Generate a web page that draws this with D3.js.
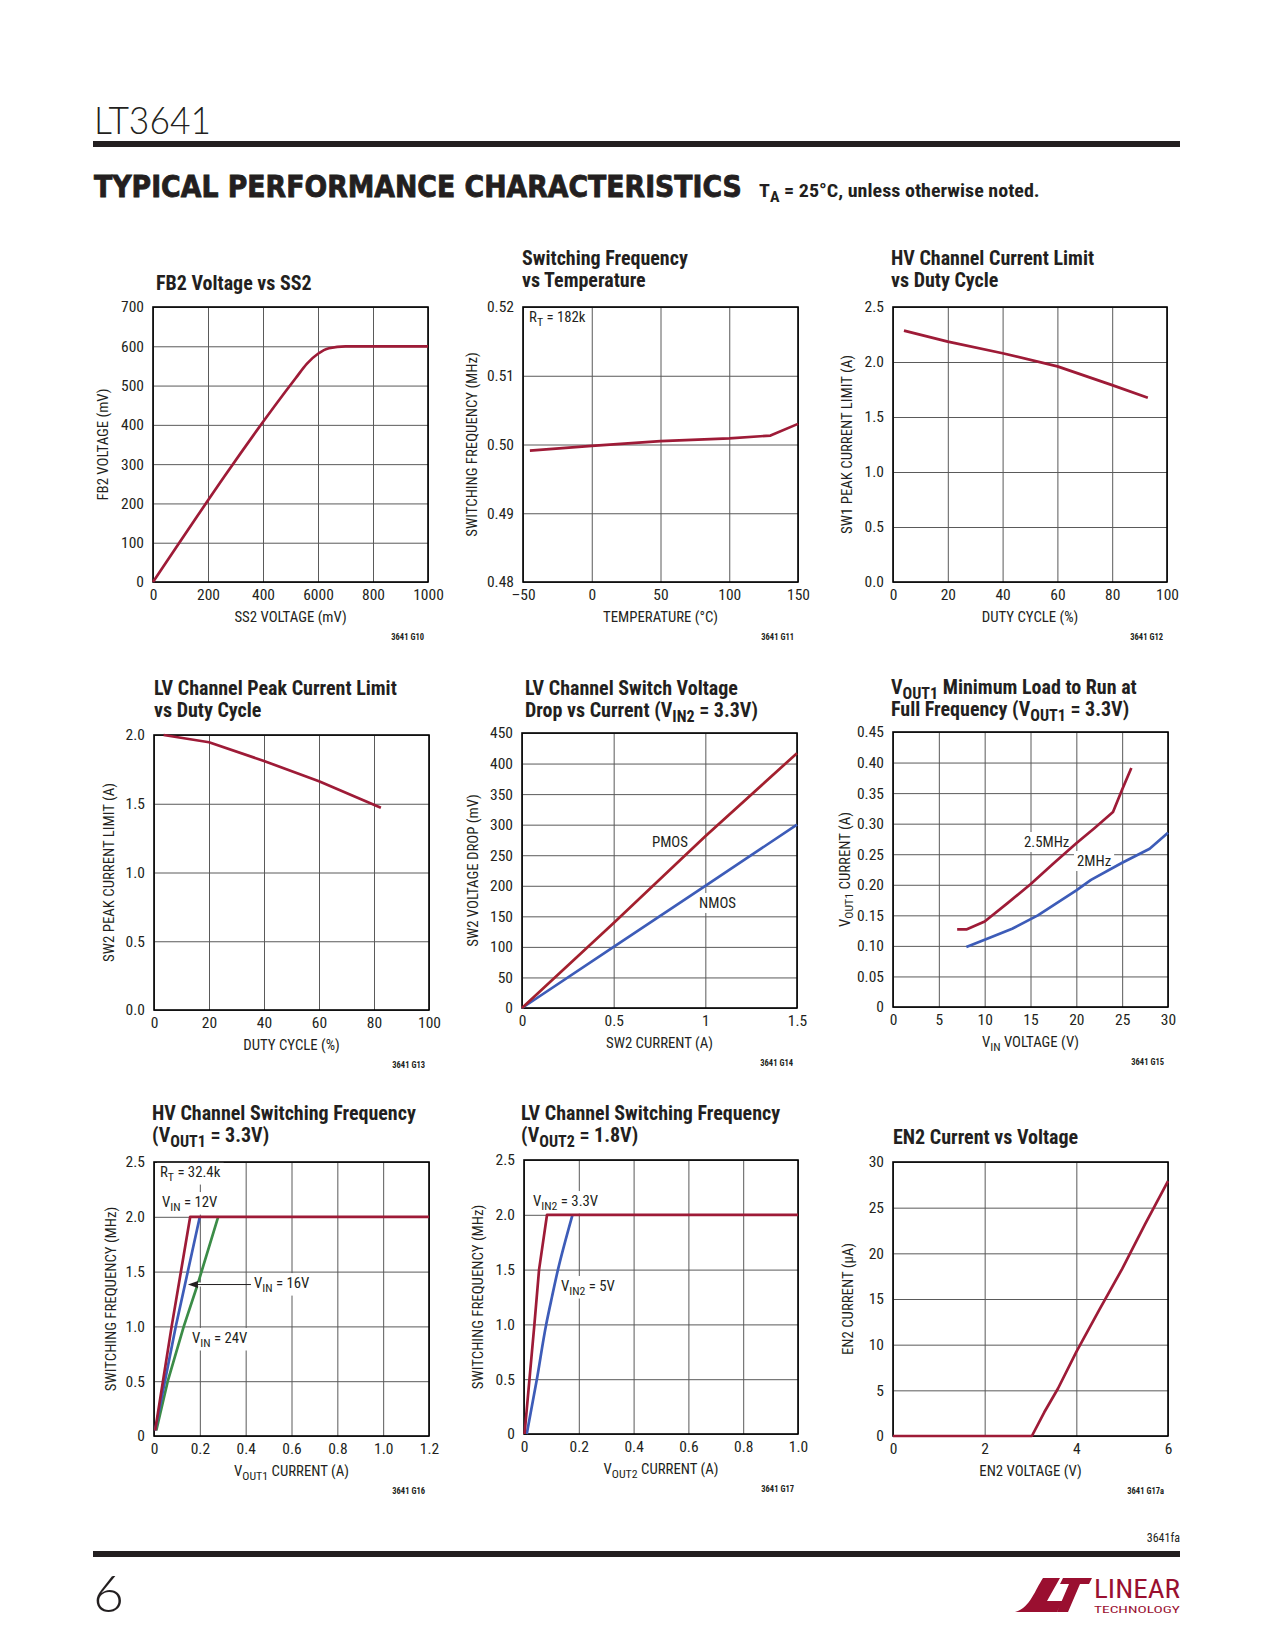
<!DOCTYPE html>
<html><head><meta charset="utf-8">
<script src="https://cdn.jsdelivr.net/npm/d3@7/dist/d3.min.js"></script>
<style>body{margin:0;background:#fff}svg{display:block}</style>
</head><body>
<svg id="page" width="1275" height="1650"></svg>
<script>
// ---------------- DATA ----------------
// G10 FB2 Voltage vs SS2
const g10Series = [[0,0],[520,520],[560,556],[600,581],[640,595],[700,600],[1000,600]];
const g10XTicks = [0,200,400,600,800,1000];
const g10XLabels = ["0","200","400","6000","800","1000"];
const g10YTicks = [0,100,200,300,400,500,600,700];
// G11 Switching Frequency vs Temperature
const g11Series = [[-45,0.4991],[0,0.4998],[50,0.5005],[100,0.5009],[130,0.5013],[150,0.5030]];
const g11XTicks = [-50,0,50,100,150];
const g11XLabels = ["\u201350","0","50","100","150"];
const g11YTicks = [0.48,0.49,0.50,0.51,0.52];
const g11YLabels = ["0.48","0.49","0.50","0.51","0.52"];
// G12 HV Channel Current Limit vs Duty Cycle
const g12Series = [[4,2.285],[20,2.185],[40,2.08],[60,1.96],[80,1.79],[93,1.675]];
const dutyTicks = [0,20,40,60,80,100];
const g12YTicks = [0,0.5,1.0,1.5,2.0,2.5];
const g12YLabels = ["0.0","0.5","1.0","1.5","2.0","2.5"];
// G13 LV Channel Peak Current Limit vs Duty Cycle
const g13Series = [[3.5,2.0],[20,1.947],[40,1.811],[60,1.663],[82.5,1.471]];
const g13YTicks = [0,0.5,1.0,1.5,2.0];
const g13YLabels = ["0.0","0.5","1.0","1.5","2.0"];
// G14 LV Channel Switch Voltage Drop vs Current
const g14Pmos = [[0,0],[0.5,139],[1,281],[1.5,417]];
const g14Nmos = [[0,0],[0.5,100],[1,200],[1.5,300]];
const g14XTicks = [0,0.5,1,1.5];
const g14XLabels = ["0","0.5","1","1.5"];
const g14YTicks = [0,50,100,150,200,250,300,350,400,450];
// G15 VOUT1 Minimum Load to Run at Full Frequency
const g15f25 = [[7,0.127],[8,0.127],[10,0.140],[12.5,0.170],[15,0.201],[17.5,0.235],[20,0.268],[22,0.293],[24,0.319],[25,0.356],[26,0.391]];
const g15f20 = [[8,0.098],[10,0.110],[13,0.128],[15.8,0.150],[20,0.191],[21.6,0.208],[25,0.236],[28,0.259],[30,0.285]];
const g15XTicks = [0,5,10,15,20,25,30];
const g15YTicks = [0,0.05,0.10,0.15,0.20,0.25,0.30,0.35,0.40,0.45];
const g15YLabels = ["0","0.05","0.10","0.15","0.20","0.25","0.30","0.35","0.40","0.45"];
// G16 HV Channel Switching Frequency
const g16Vin12 = [[0.005,0.05],[0.077,1.0],[0.158,2.0],[1.2,2.0]];
const g16Vin16 = [[0.005,0.05],[0.095,1.0],[0.2,2.0]];
const g16Vin24 = [[0.01,0.05],[0.06,0.5],[0.13,1.0],[0.19,1.38],[0.28,2.0]];
const g16XTicks = [0,0.2,0.4,0.6,0.8,1.0,1.2];
const g16XLabels = ["0","0.2","0.4","0.6","0.8","1.0","1.2"];
const freqYTicks = [0,0.5,1.0,1.5,2.0,2.5];
const freqYLabels = ["0","0.5","1.0","1.5","2.0","2.5"];
// G17 LV Channel Switching Frequency
const g17Vin33 = [[0.002,0],[0.02,0.5],[0.038,1.0],[0.055,1.5],[0.084,2.0],[1.0,2.0]];
const g17Vin5 = [[0.01,0],[0.047,0.5],[0.081,1.0],[0.102,1.25],[0.124,1.5],[0.177,2.0]];
const g17XTicks = [0,0.2,0.4,0.6,0.8,1.0];
const g17XLabels = ["0","0.2","0.4","0.6","0.8","1.0"];
// G17a EN2 Current vs Voltage
const g17aSeries = [[0,0],[3.03,0],[3.3,2.6],[3.6,5.2],[4,9.2],[4.5,13.8],[5,18.3],[5.5,23.2],[6,27.9]];
const g17aXTicks = [0,2,4,6];
const g17aYTicks = [0,5,10,15,20,25,30];

// ---------------- STYLE ----------------
const INK = "#231f20", GRID = "#5a5a5a";
const RED = "#9e1b37", BLUE = "#3d5cb8", GREEN = "#3b8c47";
const NARROW = "'Liberation Sans Narrow','Arial Narrow','Roboto Condensed',sans-serif";
const svg = d3.select("#page");

function rich(sel, str, fs) {
  const parts = str.split(/(_\{[^}]*\})/).filter(s => s.length);
  let shifted = false;
  parts.forEach(p => {
    if (p.startsWith("_{")) {
      sel.append("tspan").attr("font-size", fs * 0.8).attr("dy", fs * 0.24).text(p.slice(2, -1));
      shifted = true;
    } else {
      const t = sel.append("tspan").text(p);
      if (shifted) { t.attr("dy", -fs * 0.24); shifted = false; }
    }
  });
}

// text squeezed/stretched to a given width via a transform (keeps its box honest)
function fitText(parent, x, y, width, attrs, str) {
  const g = parent.append("g");
  const t = g.append("text").attr("x", 0).attr("y", 0);
  Object.entries(attrs).forEach(([k, v]) => t.attr(k, v));
  if (str.includes("_{")) rich(t, str, attrs["font-size"]); else t.text(str);
  const w = t.node().getComputedTextLength();
  g.attr("transform", `translate(${x},${y}) scale(${width / w},1)`);
  return g;
}

function drawChart(c) {
  const g = svg.append("g");
  const x = d3.scaleLinear().domain(c.xDomain).range([c.left, c.left + c.w]);
  const y = d3.scaleLinear().domain(c.yDomain).range([c.top + c.h, c.top]);

  c.title.forEach((line, i) => {
    const t = g.append("text").attr("x", c.titleX).attr("y", c.titleY + i * 22)
      .attr("font-family", NARROW).attr("font-weight", "bold").attr("font-size", 20).attr("fill", INK);
    rich(t, line, 20);
  });

  const xa = g.append("g").attr("transform", `translate(0,${c.top + c.h})`)
    .call(d3.axisBottom(x).tickValues(c.xTicks).tickFormat((d, i) => c.xLabels ? c.xLabels[i] : String(d))
      .tickSize(-c.h).tickPadding(7));
  const ya = g.append("g").attr("transform", `translate(${c.left},0)`)
    .call(d3.axisLeft(y).tickValues(c.yTicks).tickFormat((d, i) => c.yLabels ? c.yLabels[i] : String(d))
      .tickSize(-c.w).tickPadding(9));
  [xa, ya].forEach(a => {
    a.select(".domain").remove();
    a.selectAll(".tick line").attr("stroke", GRID).attr("stroke-width", 1);
    a.selectAll(".tick text").attr("font-family", NARROW).attr("font-size", 15.5).attr("fill", INK);
  });

  const xt = g.append("text").attr("x", c.left + c.w / 2).attr("y", c.top + c.h + 40)
    .attr("text-anchor", "middle").attr("font-family", NARROW).attr("font-size", 14.8).attr("fill", INK);
  rich(xt, c.xTitle, 14.8);
  const yt = g.append("text").attr("transform", `translate(${c.yTitleX},${c.top + c.h / 2}) rotate(-90)`)
    .attr("text-anchor", "middle").attr("dominant-baseline", "central")
    .attr("font-family", NARROW).attr("font-size", 14.8).attr("fill", INK);
  rich(yt, c.yTitle, 14.8);

  const annG = g.append("g");
  const bgG = annG.append("g");
  const labels = (c.notes || []).map(n => {
    const t = annG.append("text").attr("x", x(n.x)).attr("y", y(n.y))
      .attr("font-family", NARROW).attr("font-size", 14.8).attr("fill", INK);
    rich(t, n.text, 14.8);
    return t;
  });
  labels.forEach((t, i) => {
    if (c.notes[i].bg === false) return;
    const b = t.node().getBBox();
    bgG.append("rect").attr("x", b.x - 3).attr("y", b.y - 1).attr("width", b.width + 6).attr("height", b.height + 2).attr("fill", "#fff");
  });

  g.append("rect").attr("x", c.left).attr("y", c.top).attr("width", c.w).attr("height", c.h)
    .attr("fill", "none").attr("stroke", "#000").attr("stroke-width", 1.6);

  const line = d3.line().x(d => x(d[0])).y(d => y(d[1]));
  c.series.forEach(s => {
    g.append("path").datum(s.data).attr("d", line.curve(s.curve || d3.curveLinear))
      .attr("fill", "none").attr("stroke", s.color).attr("stroke-width", 2.7)
      .attr("stroke-linejoin", "round").attr("stroke-linecap", "butt");
  });

  if (c.arrow) {
    const a = c.arrow, ay = y(a.y);
    g.append("line").attr("x1", x(a.haloFrom)).attr("x2", x(a.haloTo)).attr("y1", ay).attr("y2", ay)
      .attr("stroke", "#fff").attr("stroke-width", 4);
    g.append("line").attr("x1", x(a.from)).attr("x2", x(a.to) + 8).attr("y1", ay).attr("y2", ay)
      .attr("stroke", INK).attr("stroke-width", 1);
    const tx = x(a.to);
    g.append("path").attr("d", `M${tx},${ay} L${tx + 10},${ay - 3.5} L${tx + 10},${ay + 3.5} Z`).attr("fill", INK);
  }

  labels.forEach(t => g.node().appendChild(t.node()));

  g.append("text").attr("x", c.left + c.w - 4).attr("y", c.top + c.h + 58).attr("text-anchor", "end")
    .attr("font-family", NARROW).attr("font-weight", "bold").attr("font-size", 8.5).attr("fill", INK).text(c.code);
}

// ---------------- CHARTS ----------------
drawChart({left:153, top:307, w:275, h:275, xDomain:[0,1000], yDomain:[0,700],
  xTicks:g10XTicks, xLabels:g10XLabels, yTicks:g10YTicks,
  title:["FB2 Voltage vs SS2"], titleX:156, titleY:290,
  xTitle:"SS2 VOLTAGE (mV)", yTitle:"FB2 VOLTAGE (mV)", yTitleX:103, code:"3641 G10",
  series:[{data:g10Series, color:RED, curve:d3.curveMonotoneX}]});

drawChart({left:523, top:307, w:275, h:275, xDomain:[-50,150], yDomain:[0.48,0.52],
  xTicks:g11XTicks, xLabels:g11XLabels, yTicks:g11YTicks, yLabels:g11YLabels,
  title:["Switching Frequency","vs Temperature"], titleX:522, titleY:265,
  xTitle:"TEMPERATURE (\u00B0C)", yTitle:"SWITCHING FREQUENCY (MHz)", yTitleX:472, code:"3641 G11",
  notes:[{text:"R_{T} = 182k", x:-45.6, y:0.51782, bg:false}],
  series:[{data:g11Series, color:RED}]});

drawChart({left:893, top:307, w:274, h:275, xDomain:[0,100], yDomain:[0,2.5],
  xTicks:dutyTicks, yTicks:g12YTicks, yLabels:g12YLabels,
  title:["HV Channel Current Limit","vs Duty Cycle"], titleX:891, titleY:265,
  xTitle:"DUTY CYCLE (%)", yTitle:"SW1 PEAK CURRENT LIMIT (A)", yTitleX:847, code:"3641 G12",
  series:[{data:g12Series, color:RED}]});

drawChart({left:154, top:735, w:275, h:275, xDomain:[0,100], yDomain:[0,2.0],
  xTicks:dutyTicks, yTicks:g13YTicks, yLabels:g13YLabels,
  title:["LV Channel Peak Current Limit","vs Duty Cycle"], titleX:154, titleY:695,
  xTitle:"DUTY CYCLE (%)", yTitle:"SW2 PEAK CURRENT LIMIT (A)", yTitleX:109, code:"3641 G13",
  series:[{data:g13Series, color:RED}]});

drawChart({left:522, top:733, w:275, h:275, xDomain:[0,1.5], yDomain:[0,450],
  xTicks:g14XTicks, xLabels:g14XLabels, yTicks:g14YTicks,
  title:["LV Channel Switch Voltage","Drop vs Current (V_{IN2} = 3.3V)"], titleX:525, titleY:695,
  xTitle:"SW2 CURRENT (A)", yTitle:"SW2 VOLTAGE DROP (mV)", yTitleX:473, code:"3641 G14",
  notes:[{text:"PMOS", x:0.709, y:263.5}, {text:"NMOS", x:0.966, y:163.6}],
  series:[{data:g14Nmos, color:BLUE}, {data:g14Pmos, color:"#a3202e"}]});

drawChart({left:893, top:732, w:275, h:275, xDomain:[0,30], yDomain:[0,0.45],
  xTicks:g15XTicks, yTicks:g15YTicks, yLabels:g15YLabels,
  title:["V_{OUT1} Minimum Load to Run at","Full Frequency (V_{OUT1} = 3.3V)"], titleX:891, titleY:694,
  xTitle:"V_{IN} VOLTAGE (V)", yTitle:"V_{OUT1} CURRENT (A)", yTitleX:845, code:"3641 G15",
  notes:[{text:"2.5MHz", x:14.29, y:0.2618}, {text:"2MHz", x:20.07, y:0.2307}],
  series:[{data:g15f20, color:BLUE}, {data:g15f25, color:RED}]});

drawChart({left:154, top:1162, w:275, h:274, xDomain:[0,1.2], yDomain:[0,2.5],
  xTicks:g16XTicks, xLabels:g16XLabels, yTicks:freqYTicks, yLabels:freqYLabels,
  title:["HV Channel Switching Frequency","(V_{OUT1} = 3.3V)"], titleX:152, titleY:1120,
  xTitle:"V_{OUT1} CURRENT (A)", yTitle:"SWITCHING FREQUENCY (MHz)", yTitleX:111, code:"3641 G16",
  notes:[{text:"R_{T} = 32.4k", x:0.026, y:2.363}, {text:"V_{IN} = 12V", x:0.035, y:2.089},
         {text:"V_{IN} = 16V", x:0.436, y:1.350}, {text:"V_{IN} = 24V", x:0.166, y:0.849}],
  arrow:{from:0.423, to:0.148, y:1.382, haloFrom:0.17, haloTo:0.23},
  series:[{data:g16Vin24, color:GREEN}, {data:g16Vin16, color:BLUE}, {data:g16Vin12, color:RED}]});

drawChart({left:524, top:1160, w:274, h:274, xDomain:[0,1.0], yDomain:[0,2.5],
  xTicks:g17XTicks, xLabels:g17XLabels, yTicks:freqYTicks, yLabels:freqYLabels,
  title:["LV Channel Switching Frequency","(V_{OUT2} = 1.8V)"], titleX:521, titleY:1120,
  xTitle:"V_{OUT2} CURRENT (A)", yTitle:"SWITCHING FREQUENCY (MHz)", yTitleX:478, code:"3641 G17",
  notes:[{text:"V_{IN2} = 3.3V", x:0.033, y:2.080}, {text:"V_{IN2} = 5V", x:0.135, y:1.305}],
  series:[{data:g17Vin5, color:BLUE, curve:d3.curveMonotoneY}, {data:g17Vin33, color:RED}]});

drawChart({left:893, top:1162, w:275, h:274, xDomain:[0,6], yDomain:[0,30],
  xTicks:g17aXTicks, yTicks:g17aYTicks,
  title:["EN2 Current vs Voltage"], titleX:893, titleY:1144,
  xTitle:"EN2 VOLTAGE (V)", yTitle:"EN2 CURRENT (\u03BCA)", yTitleX:848, code:"3641 G17a",
  series:[{data:g17aSeries, color:RED}]});

// ---------------- PAGE FURNITURE ----------------
fitText(svg, 94, 134, 117, {"font-family":"Lato,'Open Sans',sans-serif", "font-weight":300, "font-size":38, fill:INK}, "LT3641");
svg.append("rect").attr("x", 93).attr("y", 141).attr("width", 1087).attr("height", 6).attr("fill", INK);
fitText(svg, 94, 197, 648, {"font-family":"'DejaVu Sans',sans-serif", "font-weight":"bold", "font-size":31,
  fill:INK, stroke:INK, "stroke-width":0.9}, "TYPICAL PERFORMANCE CHARACTERISTICS");
fitText(svg, 759, 197, 281, {"font-family":NARROW, "font-weight":"bold", "font-size":19, fill:INK},
  "T_{A} = 25\u00B0C, unless otherwise noted.");

svg.append("text").attr("x", 1180).attr("y", 1542).attr("text-anchor", "end").attr("font-family", NARROW)
  .attr("font-size", 12).attr("fill", INK).text("3641fa");
svg.append("rect").attr("x", 93).attr("y", 1551).attr("width", 1087).attr("height", 6).attr("fill", INK);
fitText(svg, 93, 1612, 31, {"font-family":"Lato,'Open Sans',sans-serif", "font-weight":300, "font-size":52, fill:INK}, "6");

const LOGO = "#9a0f30";
const logo = svg.append("g").attr("fill", LOGO);
logo.append("path").attr("d", "M1015,1612 C1030,1608 1035,1590 1043,1578 L1060,1578 L1047,1601 L1063,1601 L1057,1612 Z");
logo.append("path").attr("d", "M1063,1578 L1092,1578 L1089,1584 L1080,1584 L1068,1612 L1057,1612 L1069,1584 L1060,1584 Z");
fitText(logo, 1094, 1598, 86, {"font-family":NARROW, "font-size":26, fill:LOGO}, "LINEAR");
fitText(logo, 1094, 1613, 86, {"font-family":NARROW, "font-size":9, fill:LOGO}, "TECHNOLOGY");
</script>
</body></html>
